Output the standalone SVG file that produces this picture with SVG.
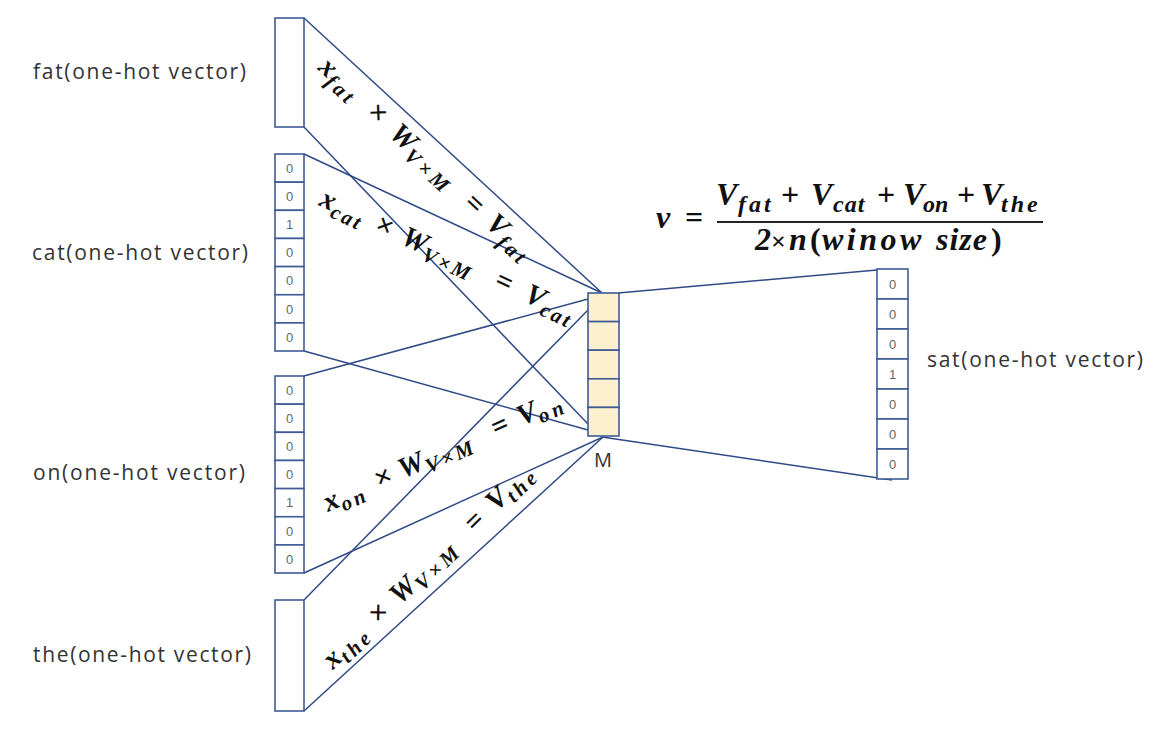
<svg xmlns="http://www.w3.org/2000/svg" width="1166" height="730" viewBox="0 0 1166 730">
<style>
.box{fill:#fff;stroke:#3f5a94;stroke-width:1.6}
.hid{fill:#fdf0cf;stroke:#3f5a94;stroke-width:1.6}
.num{font-family:"Liberation Sans",Arial,sans-serif;font-size:13px;fill:#666;text-anchor:middle}
.lbl{font-family:"Open Sans","Noto Sans","Liberation Sans",sans-serif;font-size:21px;fill:#333}
.m{font-family:"Liberation Serif","Times New Roman",serif;font-weight:bold;font-style:italic;font-size:29px;fill:#111}
.s{font-size:21px}
.op{font-style:normal;font-size:30px}
.ln{stroke:#2f4a86;stroke-width:1.5;fill:none}
.f{font-size:32px}
.fs{font-size:24px}
.fo{font-style:normal}
</style>
<rect width="1166" height="730" fill="#fff"/>
<g id="connectors">
<line class="ln" x1="304" y1="18" x2="602" y2="293"/>
<line class="ln" x1="304" y1="127" x2="588" y2="424"/>
<line class="ln" x1="304" y1="154" x2="602" y2="293"/>
<line class="ln" x1="304" y1="351" x2="588" y2="430"/>
<line class="ln" x1="304" y1="376" x2="588" y2="299"/>
<line class="ln" x1="304" y1="573" x2="603" y2="437"/>
<line class="ln" x1="304" y1="600" x2="588" y2="310"/>
<line class="ln" x1="304" y1="711" x2="603" y2="437"/>
<line class="ln" x1="618" y1="293" x2="877" y2="270"/>
<line class="ln" x1="602" y1="437" x2="892" y2="480"/>
</g>
<g id="fat">
<rect class="box" x="275" y="18" width="29" height="109"/>
<text class="lbl" x="33" y="79" textLength="213">fat(one-hot vector)</text>
</g>
<g id="cat">
<rect class="box" x="275" y="154" width="29" height="28.15"/>
<rect class="box" x="275" y="182.15" width="29" height="28.15"/>
<rect class="box" x="275" y="210.3" width="29" height="28.15"/>
<rect class="box" x="275" y="238.45" width="29" height="28.15"/>
<rect class="box" x="275" y="266.6" width="29" height="28.15"/>
<rect class="box" x="275" y="294.75" width="29" height="28.15"/>
<rect class="box" x="275" y="322.9" width="29" height="28.1"/>
<text class="num" x="289.5" y="172.8">0</text>
<text class="num" x="289.5" y="200.9">0</text>
<text class="num" x="289.5" y="229.1">1</text>
<text class="num" x="289.5" y="257.2">0</text>
<text class="num" x="289.5" y="285.4">0</text>
<text class="num" x="289.5" y="313.5">0</text>
<text class="num" x="289.5" y="341.7">0</text>
<text class="lbl" x="32" y="260" textLength="216">cat(one-hot vector)</text>
</g>
<g id="on">
<rect class="box" x="275" y="376" width="29" height="28.15"/>
<rect class="box" x="275" y="404.15" width="29" height="28.15"/>
<rect class="box" x="275" y="432.3" width="29" height="28.15"/>
<rect class="box" x="275" y="460.45" width="29" height="28.15"/>
<rect class="box" x="275" y="488.6" width="29" height="28.15"/>
<rect class="box" x="275" y="516.75" width="29" height="28.15"/>
<rect class="box" x="275" y="544.9" width="29" height="28.1"/>
<text class="num" x="289.5" y="394.8">0</text>
<text class="num" x="289.5" y="422.9">0</text>
<text class="num" x="289.5" y="451.1">0</text>
<text class="num" x="289.5" y="479.2">0</text>
<text class="num" x="289.5" y="507.4">1</text>
<text class="num" x="289.5" y="535.5">0</text>
<text class="num" x="289.5" y="563.7">0</text>
<text class="lbl" x="33" y="480" textLength="212">on(one-hot vector)</text>
</g>
<g id="the">
<rect class="box" x="275" y="600" width="29" height="111"/>
<text class="lbl" x="33" y="662" textLength="218">the(one-hot vector)</text>
</g>
<g id="hidden">
<rect class="hid" x="588" y="293" width="31" height="28.6"/>
<rect class="hid" x="588" y="321.6" width="31" height="28.6"/>
<rect class="hid" x="588" y="350.2" width="31" height="28.6"/>
<rect class="hid" x="588" y="378.8" width="31" height="28.6"/>
<rect class="hid" x="588" y="407.4" width="31" height="28.6"/>
<text class="lbl" x="603" y="467" text-anchor="middle" style="font-size:20px">M</text>
</g>
<g id="sat">
<rect class="box" x="877" y="269" width="31" height="30"/>
<rect class="box" x="877" y="299" width="31" height="30"/>
<rect class="box" x="877" y="329" width="31" height="30"/>
<rect class="box" x="877" y="359" width="31" height="30"/>
<rect class="box" x="877" y="389" width="31" height="30"/>
<rect class="box" x="877" y="419" width="31" height="30"/>
<rect class="box" x="877" y="449" width="31" height="30"/>
<text class="num" x="892.5" y="288.8">0</text>
<text class="num" x="892.5" y="318.8">0</text>
<text class="num" x="892.5" y="348.8">0</text>
<text class="num" x="892.5" y="378.8">1</text>
<text class="num" x="892.5" y="408.8">0</text>
<text class="num" x="892.5" y="438.8">0</text>
<text class="num" x="892.5" y="468.8">0</text>
<text class="lbl" x="927" y="367" textLength="216">sat(one-hot vector)</text>
</g>
<g id="eq-fat">
<text class="m" transform="translate(317,69) rotate(43)"><tspan x="0" y="0">x</tspan><tspan class="s" x="15" y="6" letter-spacing="3.5">fat</tspan><tspan class="op" x="66" y="0">×</tspan><tspan x="97" y="0">W</tspan><tspan class="s" x="123" y="6" letter-spacing="4">V×M</tspan><tspan class="fo" x="199" y="0">=</tspan><tspan x="229" y="0">V</tspan><tspan class="s" x="250" y="6" letter-spacing="3.5">fat</tspan></text>
</g>
<g id="eq-cat">
<text class="m" transform="translate(318,205) rotate(25)"><tspan x="0" y="0">x</tspan><tspan class="s" x="15" y="6" letter-spacing="2.5">cat</tspan><tspan class="op" x="61" y="0">×</tspan><tspan x="90" y="0">W</tspan><tspan class="s" x="116" y="6" letter-spacing="3">V×M</tspan><tspan class="fo" x="193" y="0">=</tspan><tspan x="226" y="0">V</tspan><tspan class="s" x="246" y="6" letter-spacing="2.5">cat</tspan></text>
</g>
<g id="eq-on">
<text class="m" transform="translate(328,512) rotate(-24)"><tspan x="0" y="0">x</tspan><tspan class="s" x="15" y="6" letter-spacing="3">on</tspan><tspan class="op" x="56" y="0">×</tspan><tspan x="82" y="0">W</tspan><tspan class="s" x="108" y="6" letter-spacing="3">V×M</tspan><tspan class="fo" x="184" y="0">=</tspan><tspan x="212" y="0">V</tspan><tspan class="s" x="231" y="6" letter-spacing="4">on</tspan></text>
</g>
<g id="eq-the">
<text class="m" transform="translate(333,670) rotate(-44)"><tspan x="0" y="0">x</tspan><tspan class="s" x="15" y="6" letter-spacing="3.5">the</tspan><tspan class="op" x="64" y="0">×</tspan><tspan x="93" y="0">W</tspan><tspan class="s" x="119" y="6" letter-spacing="4">V×M</tspan><tspan class="fo" x="197" y="0">=</tspan><tspan x="227" y="0">V</tspan><tspan class="s" x="246" y="6" letter-spacing="3.5">the</tspan></text>
</g>
<g id="formula">
<text class="m f" x="656" y="228">v</text>
<text class="m f fo" x="685" y="228">=</text>
<text class="m f"><tspan x="716" y="205">V</tspan><tspan class="fs" x="738" y="212" letter-spacing="3">fat</tspan><tspan class="fo" x="781" y="205">+</tspan><tspan x="811" y="205">V</tspan><tspan class="fs" x="833" y="212" letter-spacing="1">cat</tspan><tspan class="fo" x="877" y="205">+</tspan><tspan x="903" y="205">V</tspan><tspan class="fs" x="923" y="212" letter-spacing="0">on</tspan><tspan class="fo" x="957" y="205">+</tspan><tspan x="981" y="205">V</tspan><tspan class="fs" x="1001" y="212" letter-spacing="3">the</tspan></text>
<line x1="717" y1="222" x2="1043" y2="222" stroke="#222" stroke-width="2.2"/>
<text class="m f"><tspan x="755" y="250">2</tspan><tspan class="fo" style="font-size:26px" x="771" y="250">×</tspan><tspan x="789" y="250">n</tspan><tspan class="fo" x="810" y="250">(</tspan><tspan x="822" y="250" letter-spacing="3.5">winow</tspan><tspan x="936" y="250" letter-spacing="1">size</tspan><tspan class="fo" x="991" y="250">)</tspan></text>
</g>
</svg>
